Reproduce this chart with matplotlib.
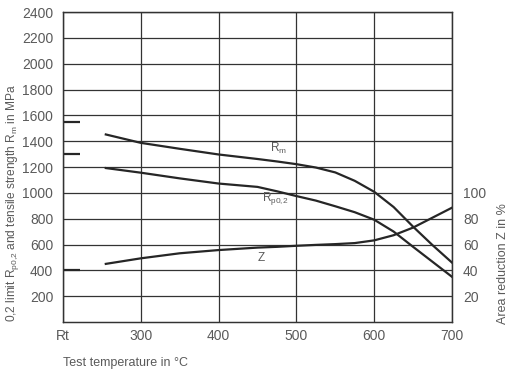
import matplotlib.pyplot as plt

plt.rcParams['font.family'] = ['Liberation Sans', 'DejaVu Sans']
plt.rcParams['mathtext.default'] = 'regular'

# test temperatures in degC (Rt is drawn at 200)
temps = [255, 300, 350, 400, 450, 475, 500, 525, 550, 575, 600, 625, 650, 675, 700]
# tensile strength Rm in MPa
rm = [1452, 1387, 1341, 1297, 1262, 1243, 1222, 1196, 1158, 1093, 1008, 890, 738, 595, 460]
# 0.2 limit Rp0,2 in MPa
rp = [1192, 1156, 1112, 1072, 1046, 1012, 975, 940, 896, 850, 792, 700, 582, 466, 350]
# area reduction Z in %
z = [45, 49.3, 53.2, 55.7, 57.6, 58.2, 59.0, 59.7, 60.3, 61.1, 63.2, 67.2, 73.1, 80.8, 88.5]

# room temperature values
rt_rm = 1550
rt_rp = 1300
rt_z = 40

x_ticks = [200, 300, 400, 500, 600, 700]
x_labels = ['Rt', '300', '400', '500', '600', '700']
y_ticks = [200, 400, 600, 800, 1000, 1200, 1400, 1600, 1800, 2000, 2200, 2400]
z_ticks = [20, 40, 60, 80, 100]

txt = '#5a5a5a'
ln = '#262626'

fig = plt.figure(figsize=(5.09, 3.72), dpi=100)
ax = fig.add_axes([0.1238, 0.1344, 0.7642, 0.8333])
ax2 = ax.twinx()

ax.plot(temps, rm, color=ln, lw=1.6)
ax.plot(temps, rp, color=ln, lw=1.6)
ax2.plot(temps, z, color=ln, lw=1.6)

ax.hlines([rt_rm, rt_rp], 200, 222, color=ln, lw=1.6)
ax2.hlines([rt_z], 200, 222, color=ln, lw=1.6)

ax.text(466, 1347, 'R$_m$', color=txt, fontsize=8.5, va='center')
ax.text(456, 955, 'R$_{p0{,}2}$', color=txt, fontsize=8.5, va='center')
ax2.text(450, 49.5, 'Z', color=txt, fontsize=8.5, va='center')

ax.set_xlim(200, 700)
ax.set_ylim(0, 2400)
ax2.set_ylim(0, 240)

ax.set_xticks(x_ticks)
ax.set_xticklabels(x_labels)
ax.set_yticks(y_ticks)
ax2.set_yticks(z_ticks)

ax.grid(True, color='#333333', lw=0.9)
ax.set_axisbelow(True)

for a in (ax, ax2):
    a.tick_params(length=0, labelsize=10, labelcolor=txt)
    for s in a.spines.values():
        s.set_color('#333333')
        s.set_linewidth(0.9)
ax.tick_params(axis='y', pad=7)
ax.tick_params(axis='x', pad=5)
ax2.tick_params(axis='y', pad=8)

ax.set_ylabel('0,2 limit R$_{p0{,}2}$ and tensile strength R$_m$ in MPa',
              color=txt, fontsize=8.6, loc='bottom')
ax.yaxis.set_label_coords(-0.108, 0)
ax2.set_ylabel('Area reduction Z in %', color=txt, fontsize=9)
ax2.yaxis.set_label_coords(1.115, 0.19)
ax.set_xlabel('Test temperature in °C', color=txt, fontsize=9, loc='left', labelpad=10)

plt.savefig('out.png', dpi=100)
